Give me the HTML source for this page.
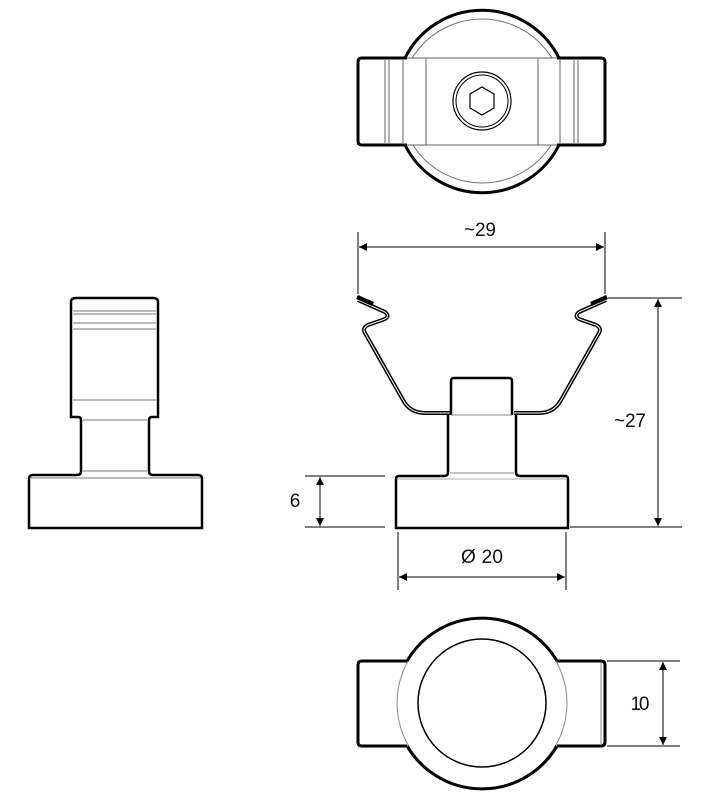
<!DOCTYPE html>
<html><head><meta charset="utf-8"><style>
html,body{margin:0;padding:0;background:#fff;width:725px;height:802px;overflow:hidden}
text{font-family:"Liberation Sans Narrow","Liberation Sans",sans-serif;font-size:19px;fill:#111}
</style></head><body>
<svg width="725" height="802" viewBox="0 0 725 802" xmlns="http://www.w3.org/2000/svg">
<defs>
<marker id="a" viewBox="0 0 10 10" refX="10" refY="5" markerWidth="12" markerHeight="8" markerUnits="userSpaceOnUse" orient="auto-start-reverse"><path d="M0,0L10,5L0,10z" fill="#000"/></marker>
</defs>
<g fill="none" stroke="#000">
<!-- TOP VIEW -->
<path d="M405,58 A86,86 0 0 1 559,58" stroke-width="3"/>
<path d="M405,145 A86,86 0 0 0 559,145" stroke-width="3"/>
<circle cx="482" cy="101" r="82" stroke="#777" stroke-width="1"/>
<rect x="358" y="58" width="247" height="87" fill="#fff" stroke="none"/>
<path d="M407,58 H362 Q358,58 358,62 V141 Q358,145 362,145 H407" stroke-width="3"/>
<path d="M557,58 H601 Q605,58 605,62 V141 Q605,145 601,145 H557" stroke-width="3"/>
<line x1="407" y1="58" x2="557" y2="58" stroke="#666" stroke-width="1"/>
<line x1="407" y1="145" x2="557" y2="145" stroke="#666" stroke-width="1"/>
<g stroke="#666" stroke-width="1">
<line x1="385" y1="60" x2="385" y2="143"/><line x1="389" y1="60" x2="389" y2="143"/>
<line x1="403" y1="60" x2="403" y2="143"/><line x1="426" y1="58" x2="426" y2="145"/>
<line x1="538" y1="58" x2="538" y2="145"/><line x1="560" y1="60" x2="560" y2="143"/>
<line x1="574" y1="60" x2="574" y2="143"/><line x1="578" y1="60" x2="578" y2="143"/>
</g>
<circle cx="482" cy="101" r="29" stroke-width="1.2"/>
<circle cx="482" cy="101" r="26" stroke-width="1"/>
<polygon points="482,87 494,94 494,108 482,115 470,108 470,94" stroke-width="1.2"/>
<!-- SIDE VIEW MAIN -->
<path d="M358,300 L385,312 Q390,316 385,319 L368,325 Q362,328 365,333 L403,400 Q410,413 425,413 H450" stroke-width="4"/>
<path d="M358,300 L385,312 Q390,316 385,319 L368,325 Q362,328 365,333 L403,400 Q410,413 425,413 H450" stroke="#fff" stroke-width="1"/>
<path d="M606,300 L579,312 Q574,316 579,319 L596,325 Q602,328 599,333 L561,400 Q554,413 539,413 H514" stroke-width="4"/>
<path d="M606,300 L579,312 Q574,316 579,319 L596,325 Q602,328 599,333 L561,400 Q554,413 539,413 H514" stroke="#fff" stroke-width="1"/>
<path d="M357,297 L373,304" stroke-width="4.5"/><path d="M607,297 L591,304" stroke-width="4.5"/>
<path d="M451,415 V381 Q451,378 454,378 H509 Q512,378 512,381 V415" stroke-width="2.5"/>
<line x1="451" y1="415" x2="512" y2="415" stroke="#888" stroke-width="1"/>
<path d="M448,415 V472 Q448,476 444,476 H399 Q396,476 396,479 V528 H568 V479 Q568,476 565,476 H520 Q516,476 516,472 V415" stroke-width="2.5"/>
<line x1="450" y1="473" x2="514" y2="473" stroke="#888"/><line x1="398" y1="479" x2="566" y2="479" stroke="#aaa"/>
<!-- LEFT VIEW -->
<path d="M71,417 V302 Q71,298 76,298 H153 Q158,298 158,302 V417 H152 Q149,417 149,420 V471 Q149,475 153,475 H198 Q202,475 202,479 V528 H29 V479 Q29,475 33,475 H77 Q81,475 81,471 V420 Q81,417 78,417 Z" stroke-width="2.5"/>
<g stroke="#777" stroke-width="1">
<line x1="73" y1="311" x2="156" y2="311"/><line x1="73" y1="314" x2="156" y2="314"/>
<line x1="73" y1="323" x2="156" y2="323"/><line x1="73" y1="329" x2="156" y2="329"/>
<line x1="73" y1="400" x2="156" y2="400"/><line x1="83" y1="420" x2="147" y2="420"/>
<line x1="83" y1="471" x2="147" y2="471"/><line x1="31" y1="478" x2="200" y2="478"/>
</g>
<!-- BOTTOM VIEW -->
<rect x="358" y="661" width="247" height="85" fill="#fff" stroke="none"/>
<path d="M407,661 H362 Q358,661 358,665 V742 Q358,746 362,746 H407" stroke-width="3"/>
<path d="M557,661 H601 Q605,661 605,665 V742 Q605,746 601,746 H557" stroke-width="3"/>
<circle cx="482" cy="703" r="85" fill="#fff" stroke="#888" stroke-width="1"/>
<path d="M407,661 A87,87 0 0 1 557,661" stroke-width="3"/>
<path d="M407,746 A87,87 0 0 0 557,746" stroke-width="3"/>
<circle cx="482" cy="703" r="64" stroke-width="1.5"/>
<line x1="601" y1="663" x2="601" y2="744" stroke="#888"/>
<!-- DIMENSIONS -->
<g stroke-width="1">
<line x1="358" y1="232" x2="358" y2="294"/><line x1="605" y1="232" x2="605" y2="294"/>
<line x1="359" y1="247" x2="604" y2="247" marker-start="url(#a)" marker-end="url(#a)"/>
<line x1="608" y1="298" x2="682" y2="298"/><line x1="570" y1="527" x2="682" y2="527"/>
<line x1="658" y1="299" x2="658" y2="526" marker-start="url(#a)" marker-end="url(#a)"/>
<line x1="305" y1="476" x2="385" y2="476"/><line x1="305" y1="527" x2="385" y2="527"/>
<line x1="320" y1="477" x2="320" y2="526" marker-start="url(#a)" marker-end="url(#a)"/>
<line x1="398" y1="532" x2="398" y2="590"/><line x1="566" y1="532" x2="566" y2="590"/>
<line x1="399" y1="577" x2="565" y2="577" marker-start="url(#a)" marker-end="url(#a)"/>
<line x1="607" y1="661" x2="680" y2="661"/><line x1="607" y1="746" x2="680" y2="746"/>
<line x1="663" y1="662" x2="663" y2="745" marker-start="url(#a)" marker-end="url(#a)"/>
</g>
</g>
<text x="480" y="236" text-anchor="middle" textLength="32">~29</text>
<text x="630" y="427" text-anchor="middle" textLength="32">~27</text>
<text x="295" y="507" text-anchor="middle">6</text>
<text x="482" y="563" text-anchor="middle" textLength="42">Ø 20</text>
<text x="640" y="710" text-anchor="middle" textLength="19">10</text>
</svg>
</body></html>
